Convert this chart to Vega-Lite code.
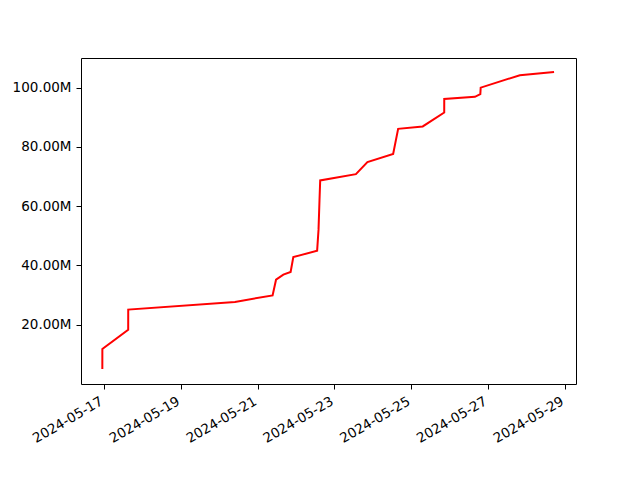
{
  "$schema": "https://vega.github.io/schema/vega-lite/v6.json",
  "autosize": "none",
  "padding": {"left": 81, "top": 58, "right": 64, "bottom": 96},
  "width": 495,
  "height": 326,
  "background": "white",
  "config": {
    "view": {"stroke": "black", "strokeWidth": 1},
    "axis": {"labelFont": "DejaVu Sans", "labelFontSize": 13.5, "labelColor": "black", "tickColor": "black", "tickSize": 5, "domain": false, "grid": false, "title": null}
  },
  "data": {
    "values": [
      {"time": "2024-05-16T22:57:00", "value": 5060000},
      {"time": "2024-05-16T22:58:00", "value": 11800000},
      {"time": "2024-05-17T15:07:00", "value": 18300000},
      {"time": "2024-05-17T15:08:00", "value": 25100000},
      {"time": "2024-05-20T09:50:00", "value": 27700000},
      {"time": "2024-05-21T09:22:00", "value": 29900000},
      {"time": "2024-05-21T11:31:00", "value": 35200000},
      {"time": "2024-05-21T16:05:00", "value": 36900000},
      {"time": "2024-05-21T20:38:00", "value": 37800000},
      {"time": "2024-05-21T22:19:00", "value": 42800000},
      {"time": "2024-05-22T13:12:00", "value": 45000000},
      {"time": "2024-05-22T14:04:00", "value": 52000000},
      {"time": "2024-05-22T14:41:00", "value": 62000000},
      {"time": "2024-05-22T15:07:00", "value": 68700000},
      {"time": "2024-05-23T13:26:00", "value": 70800000},
      {"time": "2024-05-23T20:38:00", "value": 74900000},
      {"time": "2024-05-24T12:43:00", "value": 77600000},
      {"time": "2024-05-24T15:50:00", "value": 86100000},
      {"time": "2024-05-25T07:12:00", "value": 86900000},
      {"time": "2024-05-25T20:38:00", "value": 91600000},
      {"time": "2024-05-25T20:39:00", "value": 96200000},
      {"time": "2024-05-26T15:50:00", "value": 96900000},
      {"time": "2024-05-26T19:12:00", "value": 97800000},
      {"time": "2024-05-26T19:26:00", "value": 100000000},
      {"time": "2024-05-27T19:55:00", "value": 104200000},
      {"time": "2024-05-28T17:17:00", "value": 105300000}
    ]
  },
  "mark": {"type": "line", "color": "red", "strokeWidth": 2},
  "encoding": {
    "x": {
      "field": "time",
      "type": "temporal",
      "scale": {"domain": [{"year": 2024, "month": 5, "date": 16, "hours": 9, "minutes": 37}, {"year": 2024, "month": 5, "date": 29, "hours": 7, "minutes": 0}]},
      "axis": {
        "values": [
          {"year": 2024, "month": 5, "date": 17},
          {"year": 2024, "month": 5, "date": 19},
          {"year": 2024, "month": 5, "date": 21},
          {"year": 2024, "month": 5, "date": 23},
          {"year": 2024, "month": 5, "date": 25},
          {"year": 2024, "month": 5, "date": 27},
          {"year": 2024, "month": 5, "date": 29}
        ],
        "format": "%Y-%m-%d",
        "labelAngle": -30,
        "labelAlign": "right",
        "labelBaseline": "top",
        "labelPadding": 5,
        "labelOffset": -6
      }
    },
    "y": {
      "field": "value",
      "type": "quantitative",
      "scale": {"domain": [0, 110000000], "nice": false, "zero": false},
      "axis": {
        "values": [20000000, 40000000, 60000000, 80000000, 100000000],
        "labelExpr": "format(datum.value / 1000000, '.2f') + 'M'",
        "labelPadding": 5
      }
    }
  }
}
